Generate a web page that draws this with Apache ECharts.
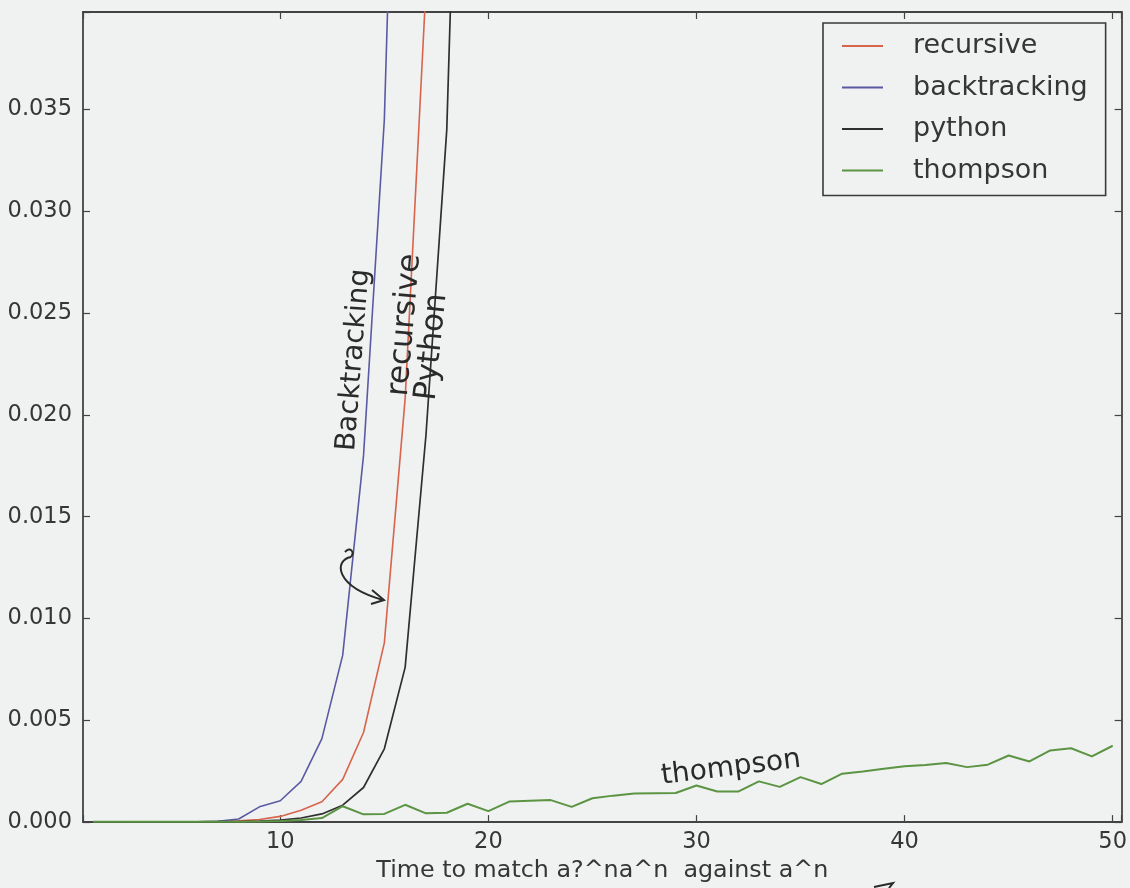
<!DOCTYPE html>
<html><head><meta charset="utf-8">
<script src="https://cdn.jsdelivr.net/npm/echarts@6/dist/echarts.min.js"></script>
<style>html,body{margin:0;padding:0;background:#f0f1f1}#c{width:1130px;height:888px}</style>
</head><body><div id="c"></div>
<script>
// ---- data ----
const nValues = [1,2,3,4,5,6,7,8,9,10,11,12,13,14,15,16,17,18,19,20,21,22,23,24,25,26,27,28,29,30,31,32,33,34,35,36,37,38,39,40,41,42,43,44,45,46,47,48,49,50];
const recursive = [0.000002,0.000003,0.000004,0.000006,0.00001,0.000015,0.00003,0.00006,0.00013,0.00028,0.00058,0.00100,0.0021,0.0044,0.0088,0.0208,0.041,0.083];
const backtracking = [0.000003,0.000004,0.000006,0.00001,0.000015,0.00002,0.00004,0.00015,0.00075,0.00105,0.0020,0.0041,0.0082,0.0180,0.0345,0.069];
const python = [0.000002,0.000003,0.000004,0.000005,0.000008,0.00001,0.00002,0.00003,0.00005,0.0001,0.0002,0.0004,0.00083,0.0017,0.0036,0.0076,0.0190,0.0340,0.068];
const thompson = [0.00002,0.00002,0.00002,0.00002,0.00002,0.00002,0.00002,0.00002,0.00003,0.00005,0.0001,0.0002,0.00078,0.00038,0.0004,0.00085,0.00043,0.00046,0.0009,0.00054,0.00101,0.00105,0.00108,0.00075,0.00117,0.0013,0.0014,0.00142,0.00143,0.0018,0.0015,0.0015,0.0020,0.00173,0.00221,0.00187,0.00238,0.00248,0.00262,0.00274,0.00281,0.0029,0.0027,0.00282,0.00327,0.00298,0.00352,0.00363,0.00323,0.00375];
const seriesNames = ['recursive','backtracking','python','thompson'];
const xTickLabels = ['10','20','30','40','50'];
const yTickLabels = ['0.000','0.005','0.010','0.015','0.020','0.025','0.030','0.035'];
const xAxisTitle = 'Time to match a?^na^n  against a^n';

// ---- styles ----
const BG = '#f0f1f1';
const AX = '#434343';
const TXT = '#363636';
const FONT = 'DejaVu Sans';
const colors = ['#d8644c','#5a5aa4','#2f2f2f','#5b9442'];
const widths = [1.6,1.6,1.7,2.0];
const X_MIN = 0.52, X_MAX = 50.43, Y_MAX = 0.03979;

function pairs(arr){ return arr.map((v,i)=>[nValues[i], v]); }
const seriesData = [recursive, backtracking, python, thompson];

const xFmt = v => { const r = Math.round(v); return (Math.abs(v-r)<1e-6 && xTickLabels.includes(String(r))) ? String(r) : ''; };
const yFmt = v => { const s = v.toFixed(3); const k = v/0.005; return (Math.abs(k-Math.round(k))<1e-6 && yTickLabels.includes(s)) ? s : ''; };

const tickStyle = {inside:true, length:7, lineStyle:{color:AX, width:1.2}};
const lineStyleAx = {color:AX, width:1.8};
const INK = '#2a2a2a';

const chart = echarts.init(document.getElementById('c'), null, {renderer:'canvas'});
chart.setOption({
  backgroundColor: BG,
  animation: false,
  grid: {left:83, right:8, top:12, bottom:62, containLabel:false},
  xAxis: [
    {type:'value', position:'bottom', min:X_MIN, max:X_MAX, minInterval:10, maxInterval:10,
     axisLine:{show:true, onZero:false, lineStyle:lineStyleAx}, axisTick:tickStyle,
     axisLabel:{formatter:xFmt, fontSize:22.5, color:TXT, fontFamily:FONT, margin:9, showMinLabel:true, showMaxLabel:true},
     splitLine:{show:false},
     name:xAxisTitle, nameLocation:'middle', nameGap:25,
     nameTextStyle:{fontSize:23.8, color:TXT, fontFamily:FONT}},
    {type:'value', position:'top', min:X_MIN, max:X_MAX, minInterval:10, maxInterval:10,
     axisLine:{show:true, onZero:false, lineStyle:lineStyleAx}, axisTick:tickStyle,
     axisLabel:{show:false}, splitLine:{show:false}}
  ],
  yAxis: [
    {type:'value', position:'left', min:0, max:Y_MAX, interval:0.005,
     axisLine:{show:true, onZero:false, lineStyle:lineStyleAx}, axisTick:tickStyle,
     axisLabel:{formatter:yFmt, fontSize:22.5, color:TXT, fontFamily:FONT, margin:11, showMinLabel:true, showMaxLabel:true},
     splitLine:{show:false}},
    {type:'value', position:'right', min:0, max:Y_MAX, interval:0.005,
     axisLine:{show:true, onZero:false, lineStyle:lineStyleAx}, axisTick:tickStyle,
     axisLabel:{show:false}, splitLine:{show:false}}
  ],
  legend: {
    show:true, orient:'vertical', left:823, top:23,
    data: seriesNames,
    icon:'rect', itemWidth:41, itemHeight:2, itemGap:11.5,
    padding:[8,18,10,19],
    borderColor:'#3a3a3a', borderWidth:1.6, borderRadius:0, backgroundColor:BG,
    textStyle:{fontSize:27, color:TXT, fontFamily:FONT, lineHeight:30, padding:[0,0,0,25]}
  },
  series: seriesNames.map((name,i)=>({
    name, type:'line', xAxisIndex:0, yAxisIndex:0,
    data: pairs(seriesData[i]),
    showSymbol:false, symbol:'none', clip:true, smooth:false,
    lineStyle:{color:colors[i], width:widths[i]},
    itemStyle:{color:colors[i]},
    z: 2+i
  })),
  graphic: [
    {type:'text', x:354, y:360, rotation:85.5*Math.PI/180, z:50,
     style:{text:'Backtracking', font:'28px "DejaVu Sans"', fill:INK, align:'center', verticalAlign:'middle'}},
    {type:'text', x:405, y:325, rotation:85*Math.PI/180, z:50,
     style:{text:'recursive', font:'31px "DejaVu Sans"', fill:INK, align:'center', verticalAlign:'middle'}},
    {type:'text', x:432, y:347, rotation:84*Math.PI/180, z:50,
     style:{text:'Python', font:'31px "DejaVu Sans"', fill:INK, align:'center', verticalAlign:'middle'}},
    {type:'text', x:731, y:768, rotation:7*Math.PI/180, z:50,
     style:{text:'thompson', font:'28px "DejaVu Sans"', fill:INK, align:'center', verticalAlign:'middle'}},
    {type:'bezierCurve', z:50, shape:{x1:345,y1:552,cpx1:350,cpy1:546,cpx2:355,cpy2:552,x2:351,y2:557},
     style:{stroke:INK, lineWidth:2, fill:null}},
    {type:'bezierCurve', z:50, shape:{x1:351,y1:557,cpx1:334,cpy1:560,cpx2:334,cpy2:586,x2:383,y2:600},
     style:{stroke:INK, lineWidth:2, fill:null}},
    {type:'polyline', z:50, shape:{points:[[372,590],[384,600],[371,604]]},
     style:{stroke:INK, lineWidth:2, fill:null}},
    {type:'polyline', z:50, shape:{points:[[874,887],[893,883],[889,888]]},
     style:{stroke:INK, lineWidth:2, fill:null}}
  ]
});
</script></body></html>
